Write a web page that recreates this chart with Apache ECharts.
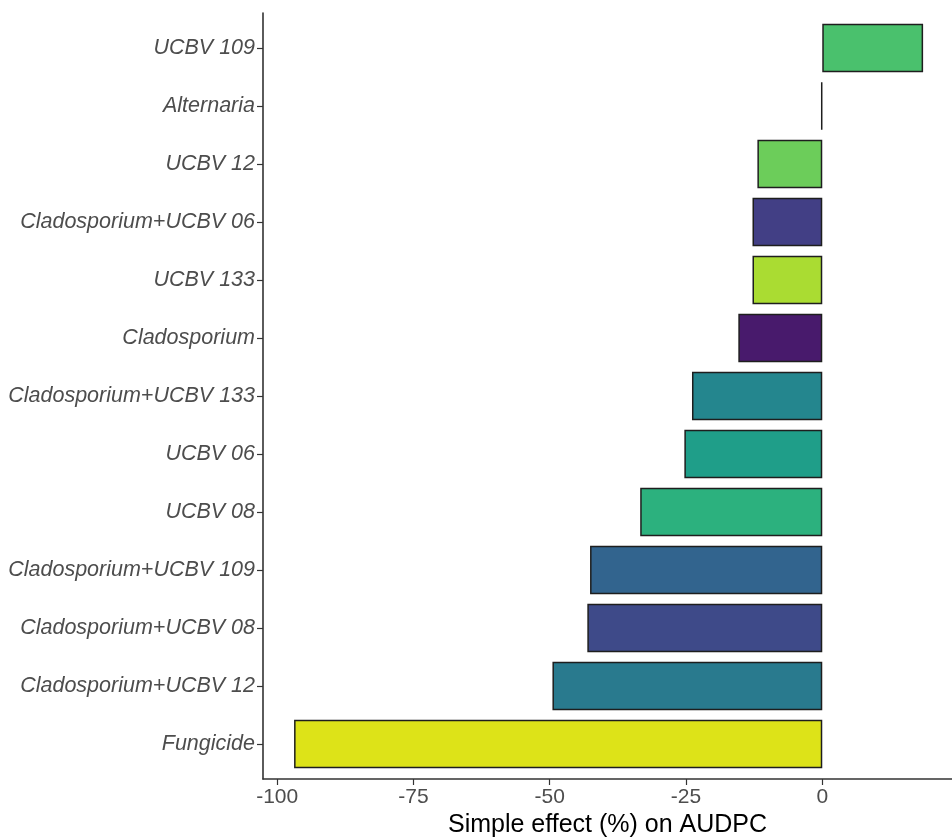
<!DOCTYPE html>
<html>
<head>
<meta charset="utf-8">
<script src="https://cdn.jsdelivr.net/npm/echarts@6/dist/echarts.min.js"></script>
<style>
  html, body { margin: 0; padding: 0; background: #ffffff; }
  #chart { width: 952px; height: 837px; }
</style>
</head>
<body>
<div id="chart"></div>
<script>
// Treatments, listed top to bottom
const treatments = [
  'UCBV 109', 'Alternaria', 'UCBV 12', 'Cladosporium+UCBV 06', 'UCBV 133',
  'Cladosporium', 'Cladosporium+UCBV 133', 'UCBV 06', 'UCBV 08',
  'Cladosporium+UCBV 109', 'Cladosporium+UCBV 08', 'Cladosporium+UCBV 12', 'Fungicide'
];
// Simple effect (%) on AUDPC for each treatment
const effects = [18.5, -0.2, -11.9, -12.8, -12.8, -15.4, -23.9, -25.3, -33.4, -42.6, -43.1, -49.5, -96.9];
// Fill colour for each treatment (viridis scale)
const fills = [
  '#4ac16d', '#8fd744', '#6ccd5a', '#423f85', '#aadc32', '#481a6c', '#24868e',
  '#1f9e89', '#2cb17e', '#32648e', '#3e4a89', '#297a8e', '#dde318'
];
// x-axis tick values
const xTicks = [-100, -75, -50, -25, 0];
const xMin = -102.6, xMax = 23.8;

const font = '"Liberation Sans", Arial, sans-serif';

const chart = echarts.init(document.getElementById('chart'), null, { renderer: 'canvas' });

chart.setOption({
  animation: false,
  backgroundColor: '#ffffff',
  grid: [
    // bars
    { left: 263, right: 0, top: 19, height: 754, outerBoundsMode: 'none' },
    // axis frame
    { left: 263, right: 0, top: 13, height: 766, outerBoundsMode: 'none' }
  ],
  xAxis: [
    { gridIndex: 0, type: 'value', min: xMin, max: xMax, show: false },
    {
      gridIndex: 1, type: 'value', min: xMin, max: xMax,
      name: 'Simple effect (%) on AUDPC',
      nameLocation: 'middle', nameGap: 33,
      nameTextStyle: { fontFamily: font, fontSize: 25, color: '#000000' },
      axisLine: { show: true, onZero: false, lineStyle: { color: '#333333', width: 1.6 } },
      axisTick: { show: true, length: 6, customValues: xTicks, lineStyle: { color: '#333333', width: 1.2 } },
      axisLabel: { show: true, margin: 8, customValues: xTicks, fontFamily: font, fontSize: 21, color: '#4d4d4d' },
      splitLine: { show: false }
    }
  ],
  yAxis: [
    {
      gridIndex: 0, type: 'category', data: treatments, inverse: true,
      position: 'left',
      axisLine: { show: false, onZero: false },
      axisTick: { show: true, alignWithLabel: true, length: 6, lineStyle: { color: '#333333', width: 1.2 } },
      axisLabel: { margin: 8, fontFamily: font, fontSize: 21.5, fontStyle: 'italic', color: '#4d4d4d' },
      splitLine: { show: false }
    },
    {
      gridIndex: 1, type: 'value', min: 0, max: 1,
      axisLine: { show: true, onZero: false, lineStyle: { color: '#333333', width: 1.6 } },
      axisTick: { show: false }, axisLabel: { show: false }, splitLine: { show: false }
    }
  ],
  series: [{
    type: 'bar',
    xAxisIndex: 0, yAxisIndex: 0,
    barWidth: 48.5,
    data: effects.map((v, i) => ({
      value: v,
      itemStyle: { color: fills[i], borderColor: '#1e1e1e', borderWidth: 1.5 }
    }))
  }]
});
</script>
</body>
</html>
